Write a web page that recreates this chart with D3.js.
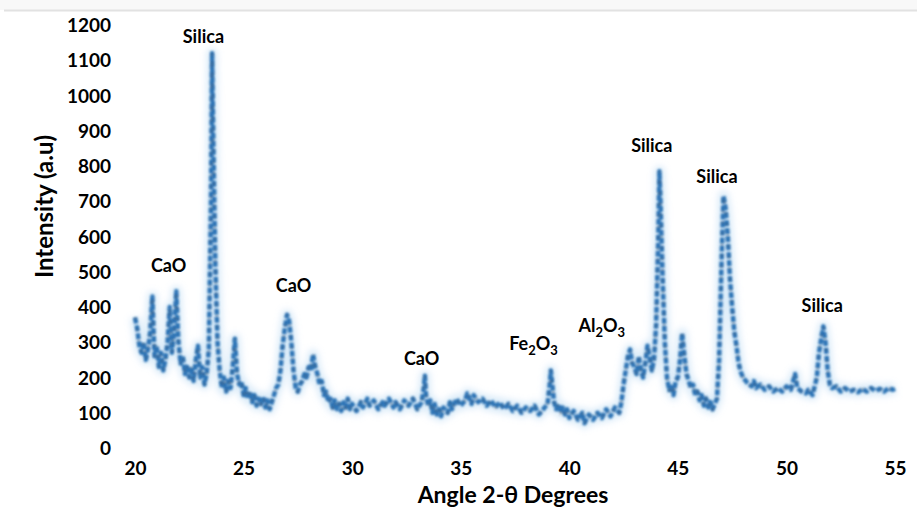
<!DOCTYPE html>
<html lang="en">
<head>
  <meta charset="UTF-8" />
  <title>XRD Pattern</title>
  <style>
    html, body { margin: 0; padding: 0; background: #fff; }
    svg text { font-family: Lato, "Open Sans", sans-serif; font-weight: bold; fill: #000; }
  </style>
</head>
<body>
  <svg id="chart"></svg>

  <script src="https://cdn.jsdelivr.net/npm/d3@7/dist/d3.min.js"></script>
  <script>
    // diffraction pattern
    const angles = [
      20.0, 20.1, 20.2, 20.3, 20.4, 20.5, 20.6, 20.7, 20.8, 20.85, 20.9, 21.0, 21.1, 21.2, 21.3, 21.4, 21.5, 21.6, 21.7, 21.8, 21.9,
      22.0, 22.1, 22.2, 22.3, 22.4, 22.5, 22.6, 22.7, 22.8, 22.9, 23.0, 23.1, 23.2, 23.3, 23.4, 23.5, 23.55, 23.6, 23.7, 23.8, 23.9,
      24.0, 24.1, 24.2, 24.3, 24.4, 24.5, 24.6, 24.7, 24.8, 24.9, 25.0, 25.1, 25.2, 25.3, 25.4, 25.5, 25.6, 25.7, 25.8, 25.9,
      26.0, 26.1, 26.2, 26.3, 26.4, 26.5, 26.6, 26.7, 26.8, 26.9, 27.0, 27.1, 27.2, 27.3, 27.4, 27.5, 27.6, 27.7, 27.8, 27.9,
      28.0, 28.1, 28.2, 28.3, 28.4, 28.5, 28.6, 28.7, 28.8, 28.9, 29.0, 29.1, 29.2, 29.3, 29.4, 29.5, 29.6, 29.7, 29.8, 29.9,
      30.0, 30.2, 30.4, 30.5, 30.7, 30.8, 31.0, 31.2, 31.4, 31.5, 31.7, 31.9, 32.0, 32.2, 32.4, 32.6, 32.8,
      33.0, 33.2, 33.3, 33.35, 33.4, 33.5, 33.6, 33.7, 33.8, 33.9, 34.0, 34.1, 34.2, 34.4, 34.5, 34.6, 34.8,
      35.0, 35.2, 35.3, 35.4, 35.5, 35.6, 35.8, 36.0, 36.2, 36.4, 36.6, 36.8, 37.0, 37.2, 37.4, 37.6, 37.8,
      38.0, 38.2, 38.4, 38.6, 38.8, 39.0, 39.1, 39.15, 39.2, 39.3, 39.4, 39.5, 39.6, 39.7, 39.8, 39.9,
      40.0, 40.2, 40.4, 40.6, 40.7, 40.9, 41.1, 41.3, 41.5, 41.7, 41.9, 42.1, 42.3, 42.4, 42.5, 42.6, 42.7, 42.8, 42.9,
      43.0, 43.1, 43.2, 43.3, 43.4, 43.5, 43.6, 43.7, 43.8, 43.9, 44.0, 44.1, 44.15, 44.2, 44.3, 44.4, 44.5, 44.6, 44.7, 44.8, 44.9,
      45.0, 45.1, 45.2, 45.3, 45.4, 45.5, 45.6, 45.7, 45.8, 45.9, 46.0, 46.1, 46.2, 46.3, 46.4, 46.5, 46.6, 46.7, 46.8, 46.9,
      47.0, 47.1, 47.2, 47.3, 47.4, 47.5, 47.6, 47.7, 47.8, 47.9, 48.0, 48.2, 48.4, 48.5, 48.6, 48.8, 49.0, 49.2, 49.4, 49.6, 49.8,
      50.0, 50.2, 50.4, 50.5, 50.7, 50.9, 51.0, 51.2, 51.4, 51.5, 51.6, 51.7, 51.8, 51.9, 52.0, 52.1, 52.3, 52.5, 52.7, 52.9,
      53.1, 53.3, 53.5, 53.7, 53.9, 54.1, 54.3, 54.5, 54.7, 54.9, 55.0
    ];
    const intensity = [
      370, 340, 290, 270, 300, 250, 280, 330, 430, 340, 260, 290, 230, 270, 220, 250, 300, 400, 270, 330, 445,
      300, 240, 260, 210, 230, 200, 230, 190, 250, 290, 200, 230, 180, 210, 280, 700, 1120, 900, 520, 300, 220,
      170, 200, 160, 190, 170, 230, 310, 210, 180, 190, 150, 170, 140, 160, 130, 150, 120, 140, 125, 145,
      115, 135, 110, 130, 150, 170, 180, 220, 290, 340, 378, 360, 300, 220, 170, 160, 180, 190, 210, 200,
      230, 220, 265, 230, 210, 180, 190, 150, 160, 130, 140, 115, 135, 110, 125, 105, 130, 115, 140, 110,
      125, 105, 130, 115, 140, 120, 135, 110, 130, 120, 140, 115, 130, 110, 135, 120, 140,
      110, 130, 170, 205, 150, 120, 135, 100, 125, 95, 110, 90, 115, 100, 130, 110, 140,
      120, 135, 155, 140, 125, 150, 130, 140, 120, 135, 115, 130, 110, 125, 105, 120, 100,
      115, 105, 120, 95, 110, 125, 180, 220, 190, 130, 110, 125, 100, 115, 95, 110,
      85, 105, 80, 100, 70, 95, 80, 100, 85, 110, 90, 115, 100, 130, 180, 220, 260, 280, 240,
      230, 210, 260, 220, 200, 240, 290, 260, 220, 250, 350, 600, 785, 700, 480, 300, 200, 165, 180, 150, 190,
      200, 250, 325, 260, 210, 190, 170, 180, 150, 160, 135, 150, 120, 140, 115, 130, 110, 125, 140, 250,
      500, 715, 680, 600, 480, 400, 330, 290, 240, 215, 200, 185, 175, 190, 170, 180, 165, 175, 160, 170, 160,
      175, 165, 210, 170, 160, 155, 165, 150, 200, 270, 310, 345, 300, 220, 180, 170, 175, 160, 170, 160,
      165, 158, 168, 160, 170, 162, 168, 160, 170, 165, 168
    ];

    const xTicks = [20, 25, 30, 35, 40, 45, 50, 55];
    const yTicks = [0, 100, 200, 300, 400, 500, 600, 700, 800, 900, 1000, 1100, 1200];

    // peak labels; "|" splits off subscripts
    const peakNames = ["Silica", "CaO", "CaO", "CaO", "Fe|2|O|3", "Al|2|O|3", "Silica", "Silica", "Silica"];
    const peakAngles = [23.15, 21.55, 27.3, 33.2, 38.35, 41.5, 43.8, 46.8, 51.65];
    const peakHeights = [1150, 500, 442, 235, 278, 330, 840, 752, 386];

    const W = 917, H = 508;
    const margin = { top: 25, right: 22, bottom: 60, left: 135 };

    const svg = d3.select("#chart")
      .attr("width", W)
      .attr("height", H);

    // light strip at the very top of the picture
    svg.append("rect")
      .attr("x", 0).attr("y", 0)
      .attr("width", W).attr("height", 10)
      .attr("fill", "#f8f8f8");
    svg.append("line")
      .attr("x1", 4).attr("x2", W)
      .attr("y1", 10.5).attr("y2", 10.5)
      .attr("stroke", "#e2e2e2")
      .attr("stroke-width", 2);

    const x = d3.scaleLinear()
      .domain([20, 55])
      .range([margin.left, W - margin.right]);

    const y = d3.scaleLinear()
      .domain([0, 1200])
      .range([H - margin.bottom, margin.top]);

    const defs = svg.append("defs");
    defs.append("filter").attr("id", "soft")
      .attr("x", "-5%").attr("y", "-5%").attr("width", "110%").attr("height", "110%")
      .append("feGaussianBlur").attr("stdDeviation", 0.8);
    defs.append("filter").attr("id", "halo")
      .attr("x", "-5%").attr("y", "-5%").attr("width", "110%").attr("height", "110%")
      .append("feGaussianBlur").attr("stdDeviation", 3);

    // axes, without lines or tick marks
    const xAxis = d3.axisBottom(x).tickValues(xTicks).tickSize(0).tickPadding(0);
    const yAxis = d3.axisLeft(y).tickValues(yTicks).tickSize(0).tickPadding(0).tickFormat(d3.format("d"));

    const gx = svg.append("g")
      .attr("transform", `translate(0, ${H - margin.bottom + 20})`)
      .call(xAxis);
    gx.select(".domain").remove();
    gx.selectAll("text")
      .attr("dy", "0.35em")
      .attr("y", 0)
      .style("font-size", "19px")
      .style("font-family", "Lato, sans-serif")
      .style("font-weight", "bold");

    const gy = svg.append("g")
      .attr("transform", `translate(${margin.left - 24}, 0)`)
      .call(yAxis);
    gy.select(".domain").remove();
    gy.selectAll("text")
      .attr("x", 0)
      .attr("dy", "0.35em")
      .style("font-size", "19px")
      .style("font-family", "Lato, sans-serif")
      .style("font-weight", "bold");

    svg.append("text")
      .attr("transform", `translate(53, ${(margin.top + H - margin.bottom) / 2 - 30}) rotate(-90)`)
      .attr("text-anchor", "middle")
      .style("font-size", "24px")
      .text("Intensity (a.u)");

    svg.append("text")
      .attr("x", 513)
      .attr("y", 503)
      .attr("text-anchor", "middle")
      .style("font-size", "23px")
      .text("Angle 2-θ Degrees");

    const pts = angles.map((a, i) => [a, intensity[i]]);
    const line = d3.line()
      .x(d => x(d[0]))
      .y(d => y(d[1]));

    // pale glow round the trace
    svg.append("path")
      .datum(pts)
      .attr("d", line)
      .attr("fill", "none")
      .attr("stroke", "#9cc8ee")
      .attr("stroke-width", 11)
      .attr("stroke-opacity", 0.35)
      .attr("stroke-linejoin", "round")
      .attr("filter", "url(#halo)");

    svg.append("path")
      .datum(pts)
      .attr("d", line)
      .attr("fill", "none")
      .attr("stroke", "#2e75b6")
      .attr("stroke-width", 4.5)
      .attr("stroke-dasharray", "6 2")
      .attr("stroke-linejoin", "round")
      .attr("filter", "url(#soft)");

    svg.append("path")
      .datum(pts)
      .attr("d", line)
      .attr("fill", "none")
      .attr("stroke", "#4d5866")
      .attr("stroke-width", 2)
      .attr("stroke-opacity", 0.5)
      .attr("stroke-dasharray", "2 9")
      .attr("filter", "url(#soft)");

    // peak labels, with subscripts split by "|"
    peakNames.forEach((name, i) => {
      const t = svg.append("text")
        .attr("x", x(peakAngles[i]))
        .attr("y", y(peakHeights[i]))
        .attr("text-anchor", "middle")
        .style("font-size", "18px");
      const parts = name.split("|");
      parts.forEach((p, j) => {
        const sub = j % 2 === 1;
        t.append("tspan")
          .attr("dy", sub ? 5 : (j > 0 ? -5 : 0))
          .style("font-size", sub ? "13px" : "18px")
          .text(p);
      });
    });
  </script>
</body>
</html>
